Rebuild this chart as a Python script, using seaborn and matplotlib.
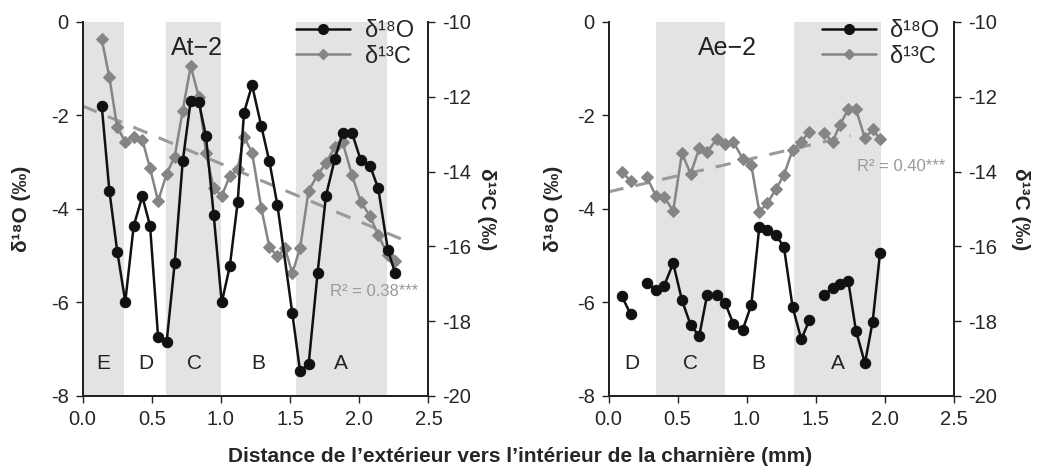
import numpy as np
import pandas as pd
import matplotlib
matplotlib.use("Agg")
import matplotlib.pyplot as plt
import seaborn as sns
from matplotlib.lines import Line2D

# ---------------- data ----------------
at2_x_o = [0.139, 0.194, 0.251, 0.309, 0.370, 0.432, 0.488, 0.546, 0.608, 0.666, 0.724, 0.782,
           0.840, 0.892, 0.948, 1.006, 1.064, 1.121, 1.167, 1.225, 1.292, 1.350, 1.408, 1.516,
           1.572, 1.634, 1.699, 1.759, 1.824, 1.880, 1.947, 2.010, 2.077, 2.137, 2.207, 2.258]
at2_d18o = [-1.80, -3.61, -4.91, -5.98, -4.36, -3.73, -4.36, -6.73, -6.84, -5.16, -2.98, -1.68,
            -1.71, -2.44, -4.13, -6.00, -5.23, -3.86, -1.94, -1.35, -2.23, -2.98, -3.91, -6.23,
            -7.47, -7.32, -5.36, -3.72, -2.92, -2.37, -2.37, -2.95, -3.07, -3.56, -4.88, -5.36]
at2_x_c = [0.139, 0.194, 0.251, 0.309, 0.370, 0.432, 0.488, 0.546, 0.608, 0.666, 0.724, 0.782,
           0.840, 0.892, 0.948, 1.006, 1.064, 1.121, 1.167, 1.225, 1.292, 1.350, 1.408, 1.463,
           1.516, 1.572, 1.634, 1.699, 1.759, 1.824, 1.880, 1.947, 2.010, 2.077, 2.137, 2.207, 2.258]
at2_d13c = [-10.46, -11.48, -12.82, -13.20, -13.07, -13.15, -13.91, -14.79, -14.06, -13.60, -12.37,
            -11.18, -12.00, -13.49, -14.45, -14.65, -14.12, -13.94, -13.07, -13.49, -14.98, -16.01,
            -16.27, -16.05, -16.72, -16.05, -14.51, -14.09, -13.78, -13.33, -13.22, -14.09, -14.80,
            -15.19, -15.70, -16.23, -16.38]

ae2_x = [0.095, 0.160, 0.276, 0.343, 0.401, 0.468, 0.531, 0.594, 0.656, 0.714, 0.782, 0.845,
         0.902, 0.970, 1.033, 1.091, 1.148, 1.211, 1.269, 1.332, 1.395, 1.452, 1.559, 1.621,
         1.674, 1.735, 1.790, 1.855, 1.911, 1.964]
ae2_seg = [0, 0, 1, 1, 1, 1, 1, 1, 1, 1, 1, 1, 1, 1, 1, 1, 1, 1, 1, 1, 1, 1, 2, 2, 2, 2, 2, 2, 2, 2]
ae2_d18o = [-5.86, -6.25, -5.59, -5.73, -5.65, -5.16, -5.95, -6.48, -6.72, -5.83, -5.83, -6.02,
            -6.45, -6.59, -6.05, -4.38, -4.45, -4.56, -4.81, -6.10, -6.79, -6.38, -5.83, -5.70,
            -5.60, -5.55, -6.60, -7.30, -6.41, -4.95]
ae2_d13c = [-14.00, -14.25, -14.14, -14.65, -14.67, -15.05, -13.51, -14.06, -13.38, -13.47, -13.14,
            -13.26, -13.20, -13.65, -13.82, -15.07, -14.85, -14.47, -14.09, -13.42, -13.20, -12.93,
            -12.97, -13.20, -12.75, -12.33, -12.33, -13.11, -12.87, -13.14]

at2_bands = [(0.0, 0.30), (0.60, 1.00), (1.54, 2.20)]
ae2_bands = [(0.34, 0.84), (1.34, 1.97)]
at2_zone_labels = ["E", "D", "C", "B", "A"]
at2_zone_x = [0.15, 0.46, 0.81, 1.27, 1.87]
ae2_zone_labels = ["D", "C", "B", "A"]
ae2_zone_x = [0.17, 0.59, 1.08, 1.66]
r2_labels = ["R\u00b2 = 0.38***", "R\u00b2 = 0.40***"]
titles = ["At\u22122", "Ae\u22122"]
x_ticks = [0.0, 0.5, 1.0, 1.5, 2.0, 2.5]
y_ticks_o = [0, -2, -4, -6, -8]
y_ticks_c = [-10, -12, -14, -16, -18, -20]

# ---------------- style ----------------
sns.set_style("ticks")
plt.rcParams["font.family"] = ["Liberation Sans Narrow", "Liberation Sans", "DejaVu Sans"]
plt.rcParams["axes.unicode_minus"] = False

BLACK = "#111111"
GRAY = "#858585"
DASH = "#9a9a9a"
BAND = "#e4e2e2"
TICK_FS = 14.5

fig = plt.figure(figsize=(10.42, 4.73), dpi=100)
ax_pos = [[0.0792, 0.1628, 0.332, 0.7907], [0.584, 0.1628, 0.3316, 0.7907]]

panels = [
    dict(xo=at2_x_o, o=at2_d18o, xc=at2_x_c, c=at2_d13c, seg_o=[0] * len(at2_x_o),
         seg_c=[0] * len(at2_x_c), bands=at2_bands, zl=at2_zone_labels, zx=at2_zone_x,
         title=titles[0], title_x=0.83, r2=r2_labels[0], r2_xy=(1.79, -5.77), fit_xmax=2.30,
         lpad_l=14, lpad_r=18),
    dict(xo=ae2_x, o=ae2_d18o, xc=ae2_x, c=ae2_d13c, seg_o=ae2_seg, seg_c=ae2_seg,
         bands=ae2_bands, zl=ae2_zone_labels, zx=ae2_zone_x,
         title=titles[1], title_x=0.86, r2=r2_labels[1], r2_xy=(1.80, -3.10), fit_xmax=1.75,
         lpad_l=10, lpad_r=24),
]

for i, p in enumerate(panels):
    ax = fig.add_axes(ax_pos[i])
    ax2 = ax.twinx()
    ax.set_zorder(ax2.get_zorder() + 1)
    ax.patch.set_visible(False)

    # bands (bottom layer)
    for (a, b) in p["bands"]:
        ax2.axvspan(a, b, color=BAND, lw=0, zorder=0)

    # d13C
    dfc = pd.DataFrame({"x": p["xc"], "y": p["c"], "seg": p["seg_c"]})
    sns.lineplot(data=dfc, x="x", y="y", units="seg", estimator=None, sort=False, ax=ax2,
                 color=GRAY, lw=1.8, marker="D", markersize=6.5, markeredgecolor=GRAY,
                 markerfacecolor=GRAY, zorder=3)
    # regression
    coef = np.polyfit(p["xc"], p["c"], 1)
    xf = np.linspace(0, p["fit_xmax"], 50)
    dff = pd.DataFrame({"x": xf, "y": np.polyval(coef, xf)})
    sns.lineplot(data=dff, x="x", y="y", ax=ax2, color=DASH, lw=2.2, ls=(0, (5, 4)), zorder=2)
    ax2.text(p["r2_xy"][0], -10 + (p["r2_xy"][1]) * 10 / 8, p["r2"], color="#999999",
             fontsize=12, ha="left", va="center", zorder=4)

    # d18O
    dfo = pd.DataFrame({"x": p["xo"], "y": p["o"], "seg": p["seg_o"]})
    sns.lineplot(data=dfo, x="x", y="y", units="seg", estimator=None, sort=False, ax=ax,
                 color=BLACK, lw=1.8, marker="o", markersize=7.5, markeredgecolor=BLACK,
                 markerfacecolor=BLACK, zorder=5)

    # limits and ticks
    ax.set_xlim(0, 2.5)
    ax.set_ylim(-8, 0)
    ax2.set_ylim(-20, -10)
    ax.set_xticks(x_ticks)
    ax.set_xticklabels([f"{v:.1f}" for v in x_ticks])
    ax.set_yticks(y_ticks_o)
    ax.set_yticklabels([str(v) for v in y_ticks_o])
    ax2.set_yticks(y_ticks_c)
    ax2.set_yticklabels([str(v) for v in y_ticks_c])
    for a in (ax, ax2):
        a.tick_params(labelsize=TICK_FS, length=5, width=1.0, color="#222222", pad=5)
        a.spines["top"].set_visible(False)
        for s in ("left", "right", "bottom"):
            a.spines[s].set_linewidth(1.4)
            a.spines[s].set_color("#222222")
    ax.set_xlabel("")
    ax.set_ylabel("\u03b4\u00b9\u2078O (\u2030)", fontsize=15, fontweight="bold",
                  labelpad=p["lpad_l"])
    ax2.set_ylabel("\u03b4\u00b9\u00b3C (\u2030)", fontsize=15, fontweight="bold",
                   rotation=270, labelpad=p["lpad_r"])

    # zone letters and title
    for lab, xx in zip(p["zl"], p["zx"]):
        ax.text(xx, -7.3, lab, fontsize=15, ha="center", va="center", color="#222222")
    ax.text(p["title_x"], -0.55, p["title"], fontsize=18, ha="center", va="center",
            color="#222222")

    # legend
    handles = [
        Line2D([], [], color=BLACK, lw=1.8, marker="o", markersize=7),
        Line2D([], [], color=GRAY, lw=1.8, marker="D", markersize=5),
    ]
    ax.legend(handles, ["\u03b4\u00b9\u2078O", "\u03b4\u00b9\u00b3C"], loc="upper left",
              bbox_to_anchor=(0.59, 1.03), frameon=False, fontsize=17, handlelength=2.3,
              handletextpad=0.6, labelspacing=0.15, borderaxespad=0)

fig.text(0.499, 0.035, "Distance de l\u2019ext\u00e9rieur vers l\u2019int\u00e9rieur de la charni\u00e8re (mm)",
         ha="center", va="center", fontsize=15, fontweight="bold")

fig.savefig("out.png", dpi=100, facecolor="white")
